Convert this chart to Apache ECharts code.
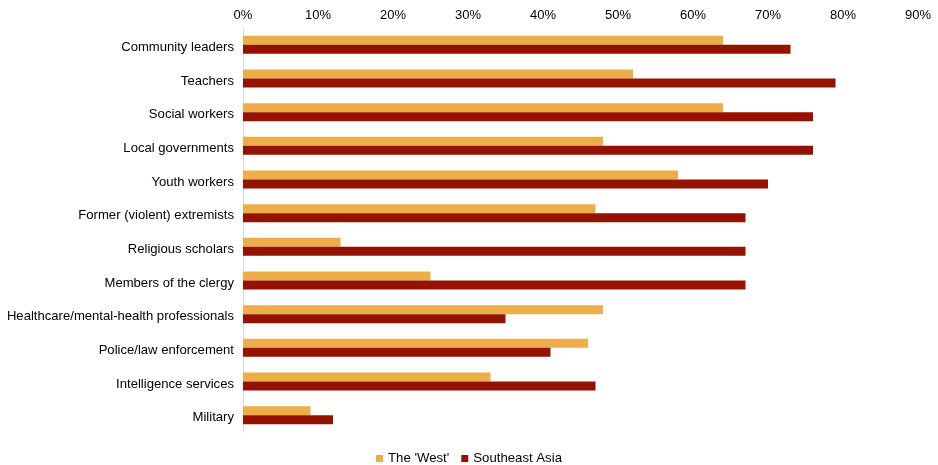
<!DOCTYPE html>
<html><head><meta charset="utf-8">
<script src="https://cdn.jsdelivr.net/npm/echarts@6/dist/echarts.min.js"></script>
<style>html,body{margin:0;padding:0;background:#fff}#c{width:938px;height:465px}</style>
</head><body><div id="c"></div>
<script>
var categories = ["Community leaders","Teachers","Social workers","Local governments","Youth workers","Former (violent) extremists","Religious scholars","Members of the clergy","Healthcare/mental-health professionals","Police/law enforcement","Intelligence services","Military"];
var westValues = [64,52,64,48,58,47,13,25,48,46,33,9];
var seaValues = [73,79,76,76,70,67,67,67,35,41,47,12];
var seriesNames = ["The 'West'","Southeast Asia"];
var chart = echarts.init(document.getElementById('c'));
var font = 'Liberation Sans, Arial, sans-serif';
chart.setOption({
  animation:false,
  grid:{left:243,right:20,top:28,bottom:33,containLabel:false},
  legend:{top:447,left:'center',itemWidth:7,itemHeight:7,itemGap:12,icon:'rect',
    textStyle:{fontFamily:font,fontSize:13.2,color:'#000'},data:seriesNames},
  xAxis:{type:'value',position:'top',min:0,max:90,interval:10,
    axisLabel:{formatter:'{value}%',fontFamily:font,fontSize:13,color:'#000',margin:6},
    axisLine:{show:false},axisTick:{show:false},splitLine:{show:false}},
  yAxis:{type:'category',inverse:true,data:categories,
    axisLine:{show:true,lineStyle:{color:'#d9d9d9'}},axisTick:{show:false},
    axisLabel:{margin:9,
      formatter:function(v){return '{a|'+v+'}';},
      rich:{a:{fontFamily:font,fontSize:13.1,color:'#000',padding:[5,0,0,0]}}}},
  series:[
    {name:seriesNames[0],type:'bar',data:westValues,barWidth:9,barGap:'0%',itemStyle:{color:'#EDAE4A'}},
    {name:seriesNames[1],type:'bar',data:seaValues,barWidth:9,barGap:'0%',itemStyle:{color:'#951200'}}
  ]
});
</script></body></html>
